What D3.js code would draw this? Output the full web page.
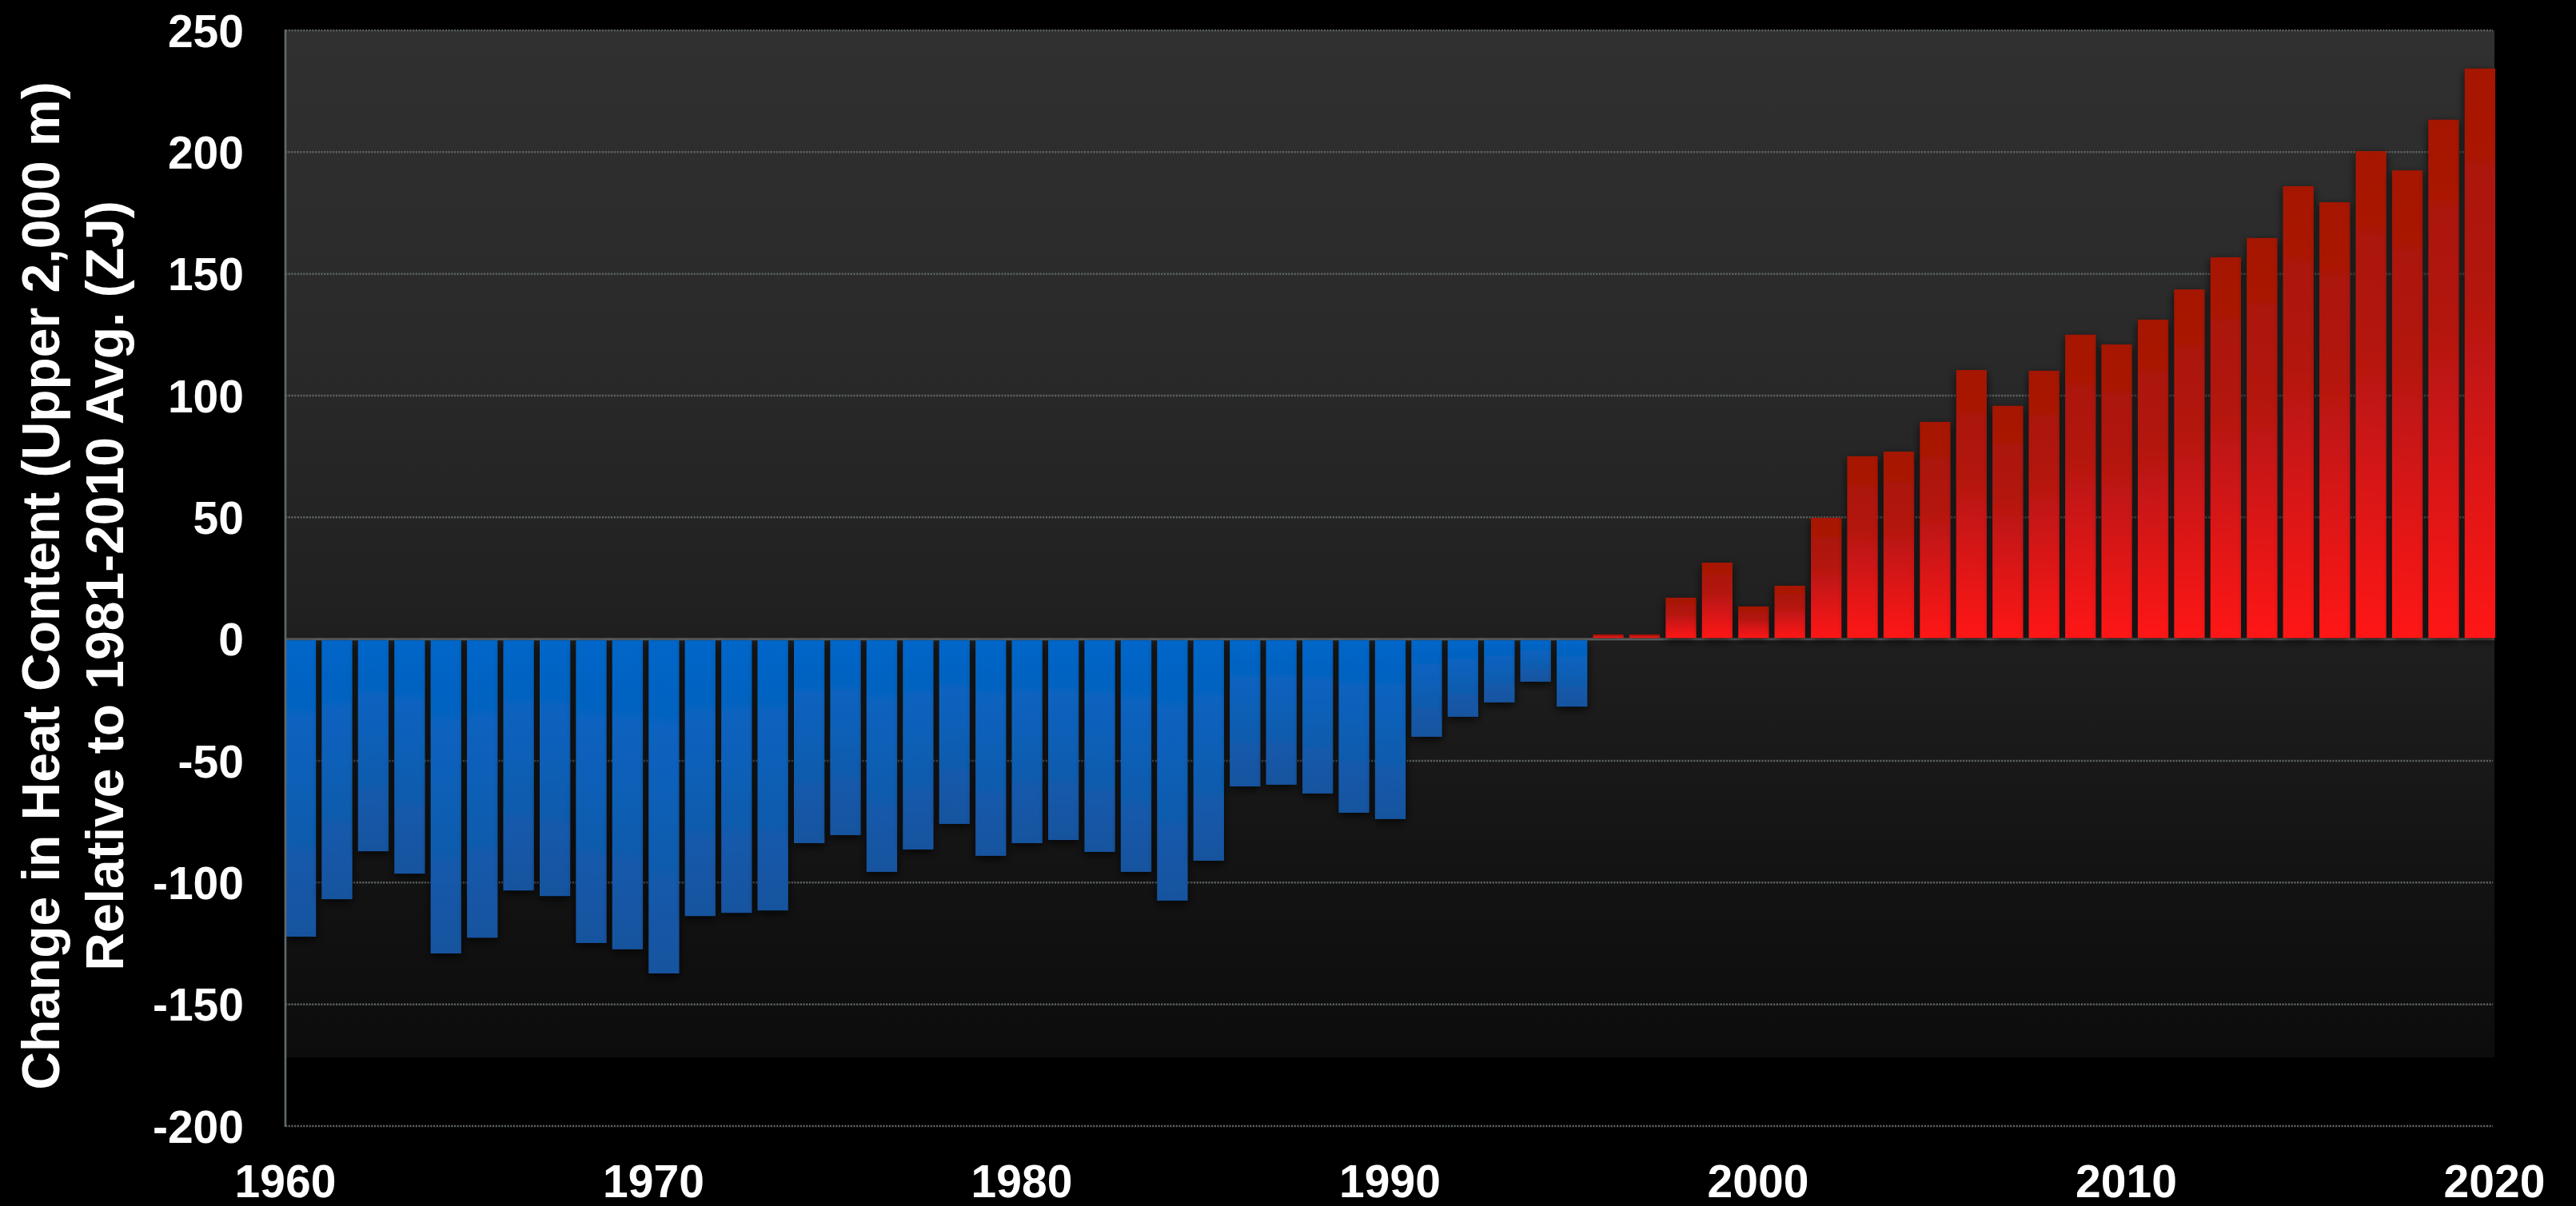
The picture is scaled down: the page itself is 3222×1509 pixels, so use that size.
<!DOCTYPE html>
<html>
<head>
<meta charset="utf-8">
<script src="https://cdn.jsdelivr.net/npm/d3@7"></script>
<style>
  html, body { margin: 0; padding: 0; background: #000; overflow: hidden; }
  svg { display: block; }
</style>
</head>
<body>
<svg id="chart" width="3222" height="1509"></svg>
<script>
const years = [1960,1961,1962,1963,1964,1965,1966,1967,1968,1969,
  1970,1971,1972,1973,1974,1975,1976,1977,1978,1979,
  1980,1981,1982,1983,1984,1985,1986,1987,1988,1989,
  1990,1991,1992,1993,1994,1995,1996,1997,1998,1999,
  2000,2001,2002,2003,2004,2005,2006,2007,2008,2009,
  2010,2011,2012,2013,2014,2015,2016,2017,2018,2019,2020];
const heatContent = [-122.2,-106.8,-87.1,-96.3,-129.1,-122.6,-103.2,-105.5,-124.8,-127.4,
  -137.3,-113.7,-112.4,-111.4,-83.8,-80.5,-95.6,-86.4,-75.9,-89.0,
  -83.8,-82.5,-87.4,-95.6,-107.4,-91.0,-60.5,-59.8,-63.4,-71.3,
  -73.9,-40.1,-31.9,-26.0,-17.5,-27.7,1.9,1.9,17.0,31.4,
  13.4,21.9,49.8,75.1,77.0,89.2,110.5,95.8,110.2,125.0,
  121.0,131.2,143.6,156.8,164.7,186.0,179.4,200.4,192.5,213.3,234.3];
const yTicks = [-200,-150,-100,-50,0,50,100,150,200,250];
const xTicks = [1960,1970,1980,1990,2000,2010,2020];
const titleLines = ["Change in Heat Content (Upper 2,000 m)", "Relative to 1981-2010 Avg. (ZJ)"];

(function () {
const data = years.map((yr, i) => ({year: yr, value: heatContent[i]}));

const svg = d3.select("#chart");
const L = 357, R = 3120, T = 38, B = 1409, panelB = 1323;

const y = d3.scaleLinear().domain([-200, 250]).range([B, T]);
const xBand = d3.scaleBand().domain(years).range([L, R + 1]).paddingInner(0.16).paddingOuter(0);
const xLab = d3.scaleLinear().domain([1960, 2020]).range([L, R]);

const defs = svg.append("defs");
const bg = defs.append("linearGradient").attr("id", "bgGrad")
  .attr("x1", 0).attr("y1", 0).attr("x2", 0).attr("y2", 1);
[[0, "#303030"], [0.3, "#2a2a2a"], [0.55, "#212121"], [0.8, "#141414"], [1, "#0c0c0c"]]
  .forEach(([o, c]) => bg.append("stop").attr("offset", o).attr("stop-color", c));

const blue = defs.append("linearGradient").attr("id", "blueGrad")
  .attr("x1", 0).attr("y1", 0).attr("x2", 0).attr("y2", 1);
[[0, "#0066c9"], [0.45, "#0c60b8"], [1, "#18539e"]]
  .forEach(([o, c]) => blue.append("stop").attr("offset", o).attr("stop-color", c));

const red = defs.append("linearGradient").attr("id", "redGrad")
  .attr("x1", 0).attr("y1", 0).attr("x2", 0).attr("y2", 1);
[[0, "#a51600"], [0.4, "#b31810"], [0.75, "#e01517"], [1, "#ff1419"]]
  .forEach(([o, c]) => red.append("stop").attr("offset", o).attr("stop-color", c));

const shadow = defs.append("filter").attr("id", "shadow")
  .attr("x", "-30%").attr("y", "-10%").attr("width", "160%").attr("height", "130%");
shadow.append("feDropShadow").attr("dx", 0).attr("dy", 4).attr("stdDeviation", 6)
  .attr("flood-color", "#000").attr("flood-opacity", 0.75);

// background panel
svg.append("rect").attr("x", L).attr("y", T)
  .attr("width", R - L).attr("height", panelB - T)
  .attr("fill", "url(#bgGrad)");

// gridlines
svg.append("g").selectAll("line").data(yTicks.filter(t => t !== 0)).join("line")
  .attr("x1", L).attr("x2", R - 2)
  .attr("y1", d => y(d)).attr("y2", d => y(d))
  .attr("stroke", "#5c6262").attr("stroke-width", 2.5)
  .attr("stroke-dasharray", "2.2,1.5");

// zero line
svg.append("line").attr("x1", L).attr("x2", R)
  .attr("y1", y(0)).attr("y2", y(0))
  .attr("stroke", "#5e6262").attr("stroke-width", 3);

// bars
svg.append("g").selectAll("rect").data(data).join("rect")
  .attr("x", d => xBand(d.year))
  .attr("width", xBand.bandwidth())
  .attr("y", d => d.value >= 0 ? y(d.value) : y(0) + 1.5)
  .attr("height", d => d.value >= 0 ? Math.max(0, y(0) - 1.5 - y(d.value)) : y(d.value) - y(0) - 1.5)
  .attr("fill", d => d.value >= 0 ? "url(#redGrad)" : "url(#blueGrad)")
  .attr("filter", "url(#shadow)");

// left axis line
svg.append("line").attr("x1", L).attr("x2", L)
  .attr("y1", T - 1).attr("y2", B + 1)
  .attr("stroke", "#606868").attr("stroke-width", 2.7);

// y tick labels
svg.append("g").selectAll("text").data(yTicks).join("text")
  .attr("x", 305).attr("y", d => y(d)).attr("dy", "0.36em")
  .attr("text-anchor", "end")
  .attr("font-family", "Liberation Sans, Arial, sans-serif")
  .attr("font-weight", "bold").attr("font-size", 57).attr("fill", "#fff")
  .text(d => d);

// x tick labels
svg.append("g").selectAll("text").data(xTicks).join("text")
  .attr("x", d => xLab(d)).attr("y", 1498)
  .attr("text-anchor", "middle")
  .attr("font-family", "Liberation Sans, Arial, sans-serif")
  .attr("font-weight", "bold").attr("font-size", 57).attr("fill", "#fff")
  .text(d => d);

// y axis title
const title = svg.append("text")
  .attr("transform", "translate(0,733) rotate(-90)")
  .attr("text-anchor", "middle")
  .attr("font-family", "Liberation Sans, Arial, sans-serif")
  .attr("font-weight", "bold").attr("font-size", 66).attr("fill", "#fff");
title.selectAll("tspan").data(titleLines).join("tspan")
  .attr("x", 0).attr("y", (d, i) => 74 + i * 80)
  .text(d => d);
})();
</script>
</body>
</html>
